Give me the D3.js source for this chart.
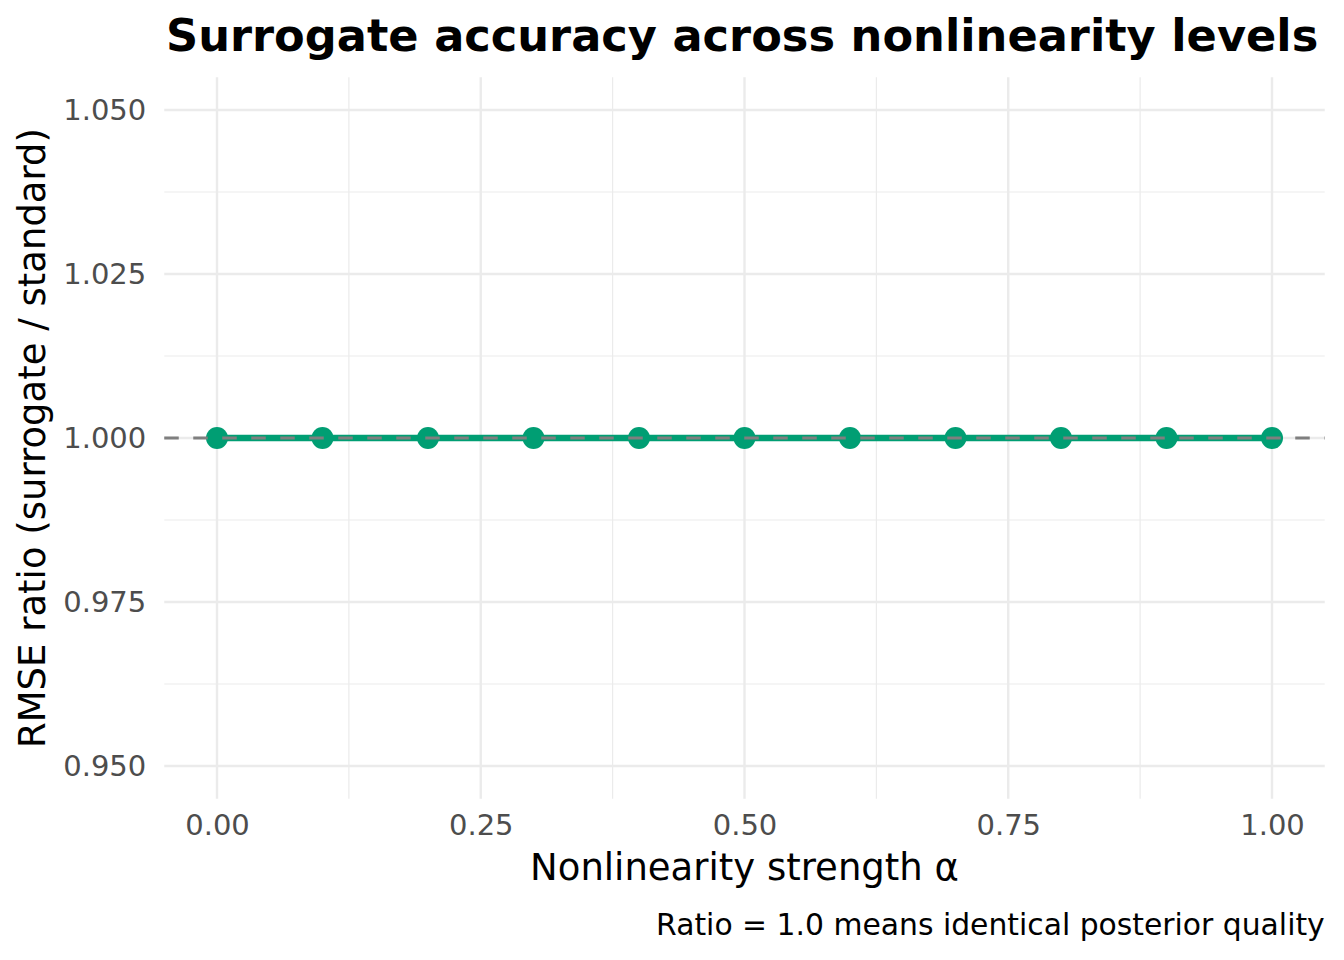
<!DOCTYPE html>
<html><head><meta charset="utf-8">
<script src="https://cdn.jsdelivr.net/npm/d3@7"></script>
<style>body{margin:0;background:#fff}svg{display:block}text{font-family:"DejaVu Sans",sans-serif}</style>
</head><body><svg id="c" width="1344" height="960"></svg>
<script>
const alphaLevels = [0.0, 0.1, 0.2, 0.3, 0.4, 0.5, 0.6, 0.7, 0.8, 0.9, 1.0];
const rmseRatio = [1.0, 1.0, 1.0, 1.0, 1.0, 1.0, 1.0, 1.0, 1.0, 1.0, 1.0];
const xTicks = [0, 0.25, 0.5, 0.75, 1.0];
const xMinor = [0.125, 0.375, 0.625, 0.875];
const yTicks = [0.95, 0.975, 1.0, 1.025, 1.05];
const yMinor = [0.9625, 0.9875, 1.0125, 1.0375];
const refLine = 1.0;

const svg = d3.select("#c");
const L = 164.25, R = 1324.75, T = 77.2, B = 798.8;
const x = d3.scaleLinear().domain([-0.05, 1.05]).range([L, R]);
const y = d3.scaleLinear().domain([0.945, 1.055]).range([B, T]);

const g = svg.append("g");
g.selectAll(".xm").data(xMinor).join("line").attr("x1", d => x(d)).attr("x2", d => x(d)).attr("y1", T).attr("y2", B).attr("stroke", "#ebebeb").attr("stroke-width", 1.2);
g.selectAll(".ym").data(yMinor).join("line").attr("y1", d => y(d)).attr("y2", d => y(d)).attr("x1", L).attr("x2", R).attr("stroke", "#ebebeb").attr("stroke-width", 1.2);
g.selectAll(".xM").data(xTicks).join("line").attr("x1", d => x(d)).attr("x2", d => x(d)).attr("y1", T).attr("y2", B).attr("stroke", "#ebebeb").attr("stroke-width", 2.4);
g.selectAll(".yM").data(yTicks).join("line").attr("y1", d => y(d)).attr("y2", d => y(d)).attr("x1", L).attr("x2", R).attr("stroke", "#ebebeb").attr("stroke-width", 2.4);

const xa = svg.append("g").attr("transform", `translate(0,${B})`).call(d3.axisBottom(x).tickValues(xTicks).tickFormat(d3.format(".2f")).tickSize(0).tickPadding(16));
xa.select(".domain").remove();
xa.selectAll("text").attr("font-size", 29).attr("fill", "#4d4d4d").attr("font-family", "DejaVu Sans");
const ya = svg.append("g").attr("transform", `translate(${L},0)`).call(d3.axisLeft(y).tickValues(yTicks).tickFormat(d3.format(".3f")).tickSize(0).tickPadding(18));
ya.select(".domain").remove();
ya.selectAll("text").attr("font-size", 29).attr("fill", "#4d4d4d").attr("font-family", "DejaVu Sans");

const data = alphaLevels.map((a, i) => ({a, v: rmseRatio[i]}));
svg.append("path").datum(data).attr("fill", "none").attr("stroke", "#009E73").attr("stroke-width", 6.5)
  .attr("d", d3.line().x(d => x(d.a)).y(d => y(d.v)));
svg.selectAll(".pt").data(data).join("circle").attr("cx", d => x(d.a)).attr("cy", d => y(d.v)).attr("r", 11).attr("fill", "#009E73");
svg.append("line").attr("x1", L).attr("x2", R).attr("y1", y(refLine)).attr("y2", y(refLine))
  .attr("stroke", "#7f7f7f").attr("stroke-width", 3).attr("stroke-dasharray", "14.5,14.5");

svg.append("text").attr("x", 166).attr("y", 51).attr("font-size", 44.7).attr("font-weight", "bold").attr("fill", "#000").text("Surrogate accuracy across nonlinearity levels");
svg.append("text").attr("x", (L + R) / 2).attr("y", 880).attr("text-anchor", "middle").attr("font-size", 37).attr("fill", "#000").text("Nonlinearity strength α");
svg.append("text").attr("transform", `translate(45,${(T + B) / 2}) rotate(-90)`).attr("text-anchor", "middle").attr("font-size", 37).attr("fill", "#000").text("RMSE ratio (surrogate / standard)");
svg.append("text").attr("x", R).attr("y", 935).attr("text-anchor", "end").attr("font-size", 29.8).attr("fill", "#000").text("Ratio = 1.0 means identical posterior quality");
</script></body></html>
